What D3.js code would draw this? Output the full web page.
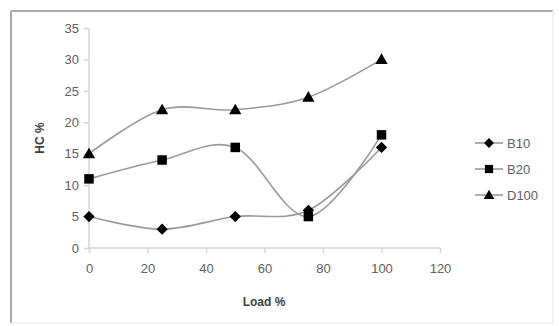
<!DOCTYPE html>
<html><head><meta charset="utf-8">
<script src="https://cdn.jsdelivr.net/npm/d3@7"></script>
<style>body{margin:0;background:#fff}svg{display:block}</style>
</head><body>
<script>
const loads = [0, 25, 50, 75, 100];
const seriesNames = ["B10", "B20", "D100"];
const b10 = [5, 3, 5, 6, 16];
const b20 = [11, 14, 16, 5, 18];
const d100 = [15, 22, 22, 24, 30];
const xTicks = [0, 20, 40, 60, 80, 100, 120];
const yTicks = [0, 5, 10, 15, 20, 25, 30, 35];
const markers = [d3.symbolSquare, d3.symbolSquare, d3.symbolTriangle];
const markerSizes = [64, 90, 65];
const markerRot = [45, 0, 0];
const markerDy = [0, 0, 1];
const seriesValues = [b10, b20, d100];

const W = 559, H = 326;
const svg = d3.select("body").append("svg").attr("width", W).attr("height", H);

// frame
svg.append("line").attr("x1",11).attr("y1",11).attr("x2",553).attr("y2",11).attr("stroke","#a9a9a9").attr("stroke-width",2);
svg.append("line").attr("x1",11).attr("y1",11).attr("x2",11).attr("y2",323).attr("stroke","#a9a9a9").attr("stroke-width",2);
svg.append("line").attr("x1",553).attr("y1",11).attr("x2",553).attr("y2",323).attr("stroke","#ececec").attr("stroke-width",1.5);
svg.append("line").attr("x1",11).attr("y1",323).attr("x2",553).attr("y2",323).attr("stroke","#ececec").attr("stroke-width",1.5);

const x = d3.scaleLinear().domain([0,120]).range([89,440]);
const y = d3.scaleLinear().domain([0,35]).range([248,28]);

const font = "'Liberation Sans', Arial, sans-serif";
const axisCol = "#d6d6d6";
const textCol = "#606060";

const xAxis = svg.append("g").attr("transform","translate(0,248)")
  .call(d3.axisBottom(x).tickValues(xTicks).tickSize(5).tickPadding(11));
const yAxis = svg.append("g").attr("transform","translate(89,0)")
  .call(d3.axisLeft(y).tickValues(yTicks).tickSize(5).tickPadding(5));
[xAxis, yAxis].forEach(g => {
  g.select(".domain").attr("stroke", axisCol).attr("stroke-width",1.5);
  g.selectAll(".tick line").attr("stroke", axisCol).attr("stroke-width",1.5);
  g.selectAll(".tick text").attr("fill", textCol).style("font-family", font).style("font-size","13px");
});
xAxis.select(".domain").attr("d", `M${x(0)},0H${x(120)}`);
yAxis.select(".domain").attr("d", `M0,${y(0)}V${y(35)}`);

svg.append("text").attr("x", 264).attr("y", 306).attr("text-anchor","middle")
  .attr("fill","#404040").style("font-family",font).style("font-size","12px").style("font-weight","bold").text("Load %");
svg.append("text").attr("transform","translate(44,138) rotate(-90)").attr("text-anchor","middle")
  .attr("fill","#404040").style("font-family",font).style("font-size","12px").style("font-weight","bold").text("HC %");

const line = d3.line().x((d,i)=>x(loads[i])).y(d=>y(d)).curve(d3.curveCatmullRom.alpha(0));
const lineCol = "#9a9a9a";

seriesValues.forEach((vals, s) => {
  svg.append("path").datum(vals).attr("d", line).attr("fill","none").attr("stroke", lineCol).attr("stroke-width",1.6);
});
seriesValues.forEach((vals, s) => {
  svg.append("g").selectAll("path").data(vals).join("path")
    .attr("transform",(d,i)=>`translate(${x(loads[i])},${y(d) + markerDy[s]}) rotate(${markerRot[s]})`)
    .attr("d", d3.symbol().type(markers[s]).size(markerSizes[s]))
    .attr("fill","#000");
});

// legend
const leg = svg.append("g");
seriesNames.forEach((name, s) => {
  const ly = 143 + s*26;
  leg.append("line").attr("x1",475).attr("x2",503).attr("y1",ly).attr("y2",ly).attr("stroke",lineCol).attr("stroke-width",1.6);
  leg.append("path").attr("transform",`translate(489,${ly + markerDy[s]}) rotate(${markerRot[s]})`)
    .attr("d", d3.symbol().type(markers[s]).size(markerSizes[s] * 0.75)).attr("fill","#000");
  leg.append("text").attr("x",507).attr("y",ly).attr("dy","0.35em").attr("fill",textCol)
    .style("font-family",font).style("font-size","13px").text(name);
});
</script>
</body></html>
